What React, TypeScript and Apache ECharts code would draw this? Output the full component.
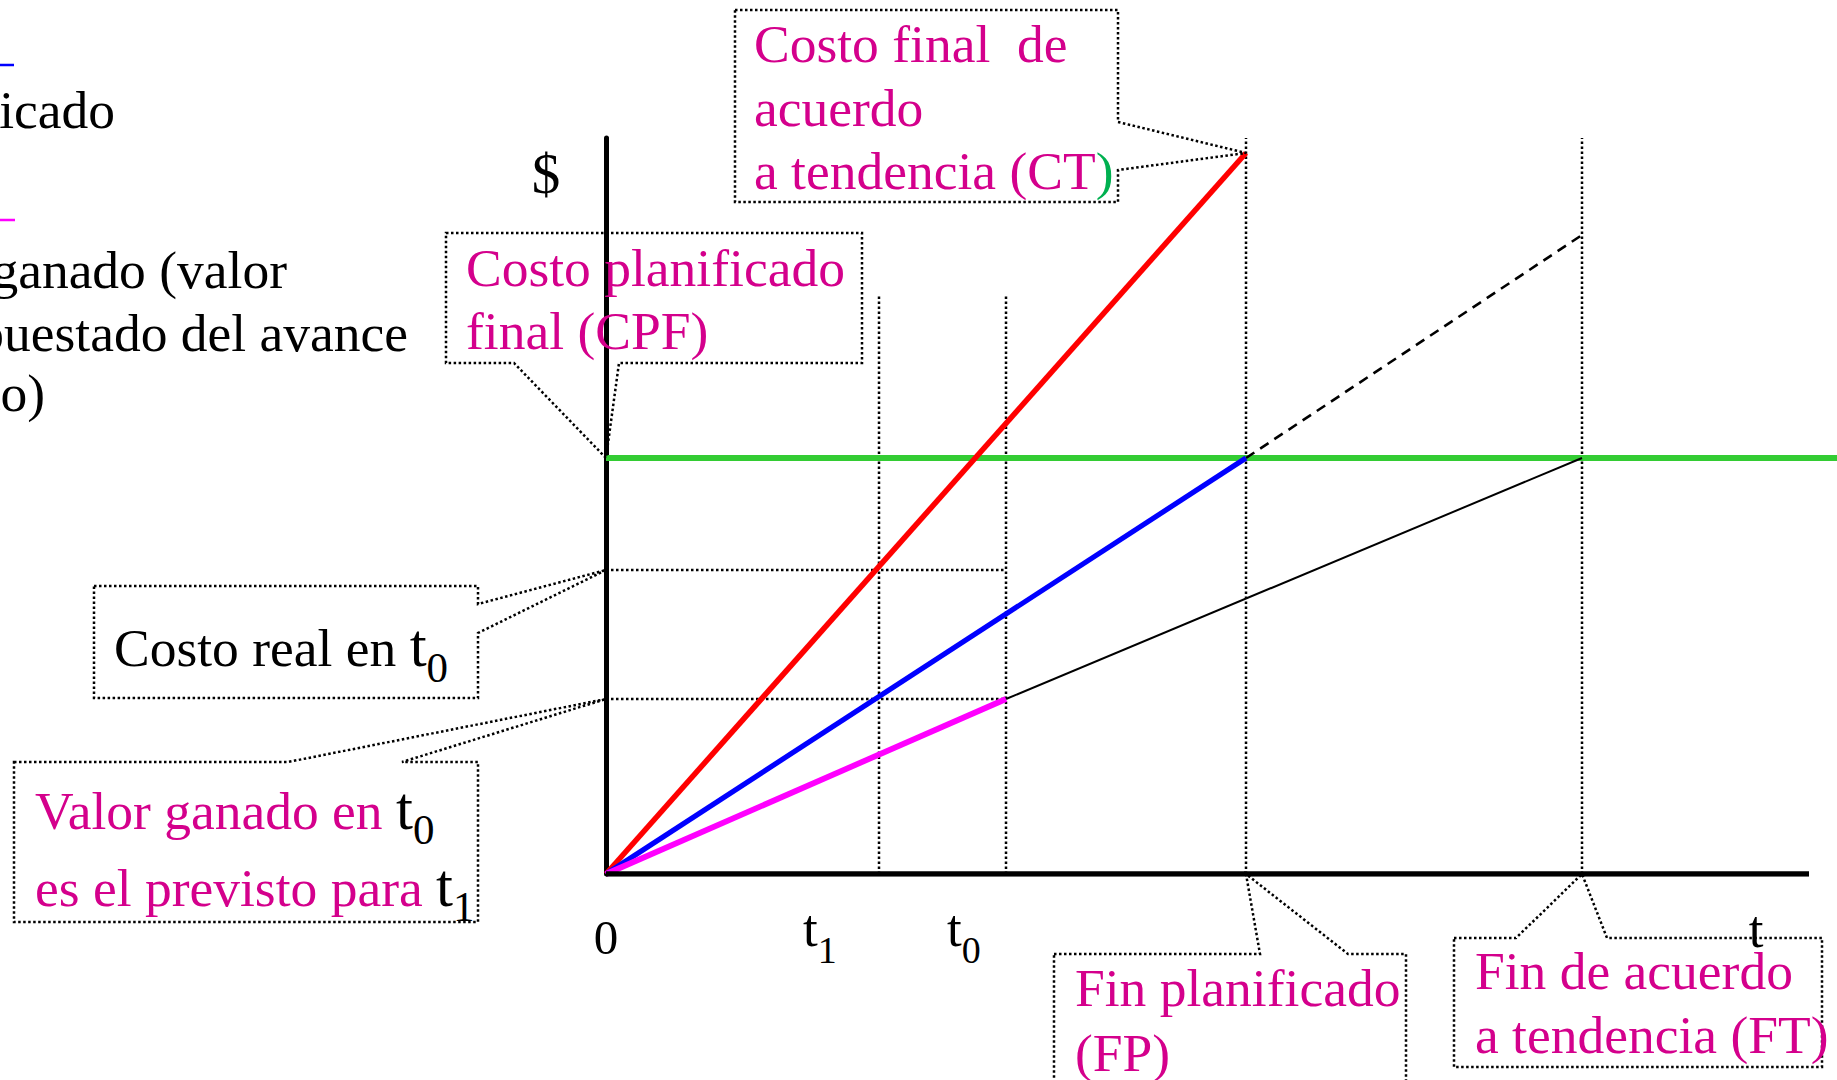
import React, { useEffect, useRef } from "react";
import * as echarts from "echarts";

const W = 1837;
const H = 1080;

// ---- data (abstract units: time on x, $ on y) ----
const T1 = 27.3; // t1
const T0 = 40; // t0
const FP = 64; // fin planificado
const FT = 97.6; // fin de acuerdo a tendencia
const X_MAX = 123.1;
const X_AXIS_END = 120.3;
const Y_MAX = 73.6;
const CPF = 41.6; // costo planificado final
const CR_T0 = 30.4; // costo real en t0
const VG_T0 = 17.5; // valor ganado en t0
const CT = 72.1; // costo final de acuerdo a tendencia
const PLAN_EXT = 63.9; // planned line extended to FT
const GUIDE_TOP = 57.8;

const plannedCost = [[0, 0], [FP, CPF]];
const actualCost = [[0, 0], [FP, CT]];
const earnedValue = [[0, 0], [T0, VG_T0]];
const earnedTrend = [[T0, VG_T0], [FT, CPF]];
const plannedExt = [[FP, CPF], [FT, PLAN_EXT]];
const budgetLine = [[0, CPF], [X_MAX, CPF]];
const timeAxis = [[0, 0], [X_AXIS_END, 0]];
const guides = [
  [[T1, 0], [T1, GUIDE_TOP]],
  [[T0, 0], [T0, GUIDE_TOP]],
  [[FP, 0], [FP, Y_MAX]],
  [[FT, 0], [FT, Y_MAX]],
  [[0, CR_T0], [T0, CR_T0]],
  [[0, VG_T0], [T0, VG_T0]],
];

// tick labels: main text + subscript
const xTickLabels = [
  { main: "0", sub: "" },
  { main: "t", sub: "1" },
  { main: "t", sub: "0" },
  { main: "t", sub: "" },
];

const MAG = "#D4008C";
const GREEN_TXT = "#00B050";
const FONT = '"Liberation Serif", "Times New Roman", serif';
const FS = 53.5;

export default function App() {
  const ref = useRef<HTMLDivElement>(null);

  useEffect(() => {
    document.body.style.margin = "0";
    document.body.style.overflow = "hidden";
    const chart = echarts.init(ref.current!, null, { renderer: "svg", width: W, height: H });

    const line = (data: number[][], color: string, width: number, type: any = "solid", z = 3) => ({
      type: "line",
      data,
      symbol: "none",
      silent: true,
      z,
      lineStyle: { color, width, type, cap: "butt" },
      emphasis: { disabled: true },
    });

    chart.setOption({
      animation: false,
      backgroundColor: "#fff",
      grid: { left: 606, right: 0, top: 138, bottom: 206 },
      xAxis: {
        type: "value",
        min: 0,
        max: X_MAX,
        axisLine: { show: false },
        axisTick: { show: false },
        axisLabel: { show: false },
        splitLine: { show: false },
      },
      yAxis: {
        type: "value",
        min: 0,
        max: Y_MAX,
        axisLine: { show: true, onZero: false, lineStyle: { color: "#000", width: 5 } },
        axisTick: { show: false },
        axisLabel: { show: false },
        splitLine: { show: false },
      },
      series: [
        ...guides.map((g) => line(g, "#000", 2.5, [2.5, 2.5], 2)),
        line(budgetLine, "#33CC33", 6, "solid", 3),
        line(earnedTrend, "#000", 2, "solid", 4),
        line(plannedExt, "#000", 2.6, [10, 7], 4),
        line(actualCost, "#FF0000", 5.5, "solid", 5),
        line(plannedCost, "#0000FF", 5.2, "solid", 5),
        line(earnedValue, "#FF00FF", 5.8, "solid", 5),
        line(timeAxis, "#000", 5.5, "solid", 6),
      ],
    });

    const px = (p: number[]) => chart.convertToPixel({ gridIndex: 0 }, p) as number[];

    const ctx = document.createElement("canvas").getContext("2d")!;
    const measure = (s: string, size: number) => {
      ctx.font = `${size}px ${FONT}`;
      return ctx.measureText(s).width;
    };

    const txt = (text: string, x: number, baseline: number, size: number, fill: string, align = "left") => ({
      type: "text",
      x,
      y: baseline - 0.32 * size,
      silent: true,
      z: 100,
      style: { text, font: `${size}px ${FONT}`, fill, align, verticalAlign: "middle" },
    });

    // sequence of segments laid out left to right
    const seq = (x: number, baseline: number, segs: { s: string; size: number; fill: string; dy?: number }[]) => {
      const out: any[] = [];
      let cx = x;
      segs.forEach((g) => {
        out.push(txt(g.s, cx, baseline + (g.dy || 0), g.size, g.fill));
        cx += measure(g.s, g.size);
      });
      return out;
    };

    const dotted = { fill: "none", stroke: "#000", lineWidth: 2.5, lineDash: [2.5, 2.5] };
    const poly = (points: number[][]) => ({ type: "polygon", silent: true, z: 50, shape: { points }, style: dotted });

    const aCT = px([FP, CT]);
    const aCPF = px([0, CPF]);
    const aCR = px([0, CR_T0]);
    const aVG = px([0, VG_T0]);
    const aFP = px([FP, 0]);
    const aFT = px([FT, 0]);

    const origin = px([0, 0]);
    const tickPos = [origin[0], 803, 947, 1756];

    const elements: any[] = [
      // callout boxes
      poly([[735, 10], [1118, 10], [1118, 122], aCT, [1118, 170], [1118, 202], [735, 202]]),
      poly([[446, 233], [862, 233], [862, 363], [619, 363], aCPF, [514, 363], [446, 363]]),
      poly([[94, 586], [478, 586], [478, 604], aCR, [478, 633], [478, 698], [94, 698]]),
      poly([[14, 762], [288, 762], aVG, [402, 762], [478, 762], [478, 922], [14, 922]]),
      poly([[1054, 954], [1260, 954], aFP, [1348, 954], [1406, 954], [1406, 1110], [1054, 1110]]),
      poly([[1454, 938], [1516, 938], aFT, [1607, 938], [1822, 938], [1822, 1067], [1454, 1067]]),

      // legend fragments at the left edge
      { type: "line", silent: true, shape: { x1: -60, y1: 65, x2: 14, y2: 65 }, style: { stroke: "#0000FF", lineWidth: 2.5 } },
      { type: "line", silent: true, shape: { x1: -60, y1: 220, x2: 15, y2: 220 }, style: { stroke: "#FF00FF", lineWidth: 2.5 } },
      txt("planificado", 115, 127, FS, "#000", "right"),
      txt("Valor ganado (valor", 287, 287, FS, "#000", "right"),
      txt("presupuestado del avance", 408, 350, FS, "#000", "right"),
      txt("concreto)", 45, 410, FS, "#000", "right"),

      // $ axis name
      txt("$", 546, 192, 57, "#000", "center"),

      // CT box
      txt("Costo final\u00a0 de", 754, 61, FS, MAG),
      txt("acuerdo", 754, 125, FS, MAG),
      ...seq(754, 188, [
        { s: "a tendencia (CT", size: FS, fill: MAG },
        { s: ")", size: FS, fill: GREEN_TXT },
      ]),

      // CPF box
      txt("Costo planificado", 466, 285, FS, MAG),
      txt("final (CPF)", 466, 348, FS, MAG),

      // Costo real box
      ...seq(114, 665, [
        { s: "Costo real en ", size: FS, fill: "#000" },
        { s: "t", size: 61, fill: "#000" },
        { s: "0", size: 43, fill: "#000", dy: 16 },
      ]),

      // Valor ganado box
      ...seq(35, 828, [
        { s: "Valor ganado en ", size: FS, fill: MAG },
        { s: "t", size: 61, fill: "#000" },
        { s: "0", size: 43, fill: "#000", dy: 15 },
      ]),
      ...seq(35, 905, [
        { s: "es el previsto para ", size: FS, fill: MAG },
        { s: "t", size: 61, fill: "#000" },
        { s: "1", size: 43, fill: "#000", dy: 15 },
      ]),

      // FP box
      txt("Fin planificado", 1075, 1005, FS, MAG),
      txt("(FP)", 1075, 1070, FS, MAG),

      // FT box
      txt("Fin de acuerdo", 1475, 988, FS, MAG),
      txt("a tendencia (FT)", 1475, 1052, FS, MAG),
    ];

    // x tick labels
    xTickLabels.forEach((lb, i) => {
      if (lb.main === "0") {
        elements.push(txt(lb.main, tickPos[i], 953, 49, "#000", "center"));
      } else if (lb.sub) {
        elements.push(...seq(tickPos[i], 945, [
          { s: lb.main, size: 53, fill: "#000" },
          { s: lb.sub, size: 38, fill: "#000", dy: 17 },
        ]));
      } else {
        elements.push(txt(lb.main, tickPos[i], 946, 53, "#000", "center"));
      }
    });

    chart.setOption({ graphic: { elements } });

    return () => chart.dispose();
  }, []);

  return <div ref={ref} style={{ position: "absolute", left: 0, top: 0, width: W, height: H }} />;
}
